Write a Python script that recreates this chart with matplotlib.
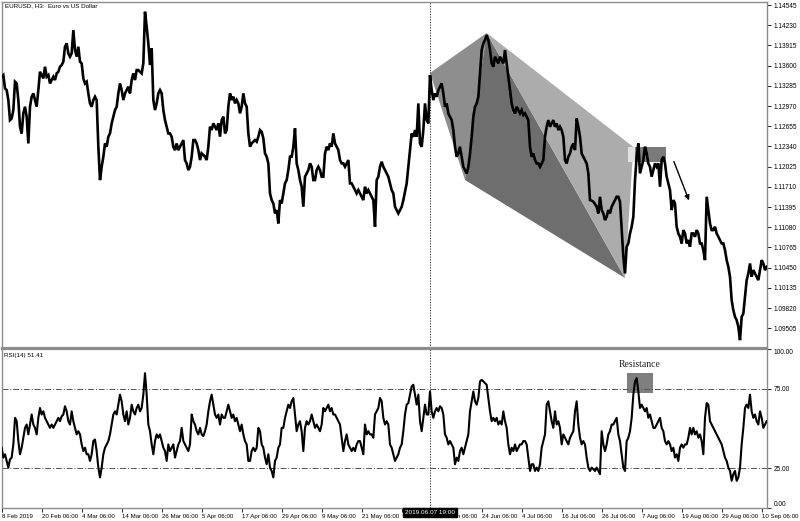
import numpy as np
import matplotlib
matplotlib.use("Agg")
import matplotlib.pyplot as plt
from matplotlib.patches import Polygon, Rectangle

plt.rcParams['font.family'] = ['Liberation Sans', 'DejaVu Sans']

# ---------------- data (EURUSD H3, one sample every 8 trading hours) ----------------
price_feb_mar = [1.13427, 1.13453, 1.13245, 1.13219, 1.13063, 1.12751, 1.12777, 1.12907, 1.13349, 1.13323,
                 1.13063, 1.12647, 1.12543, 1.12855, 1.12959, 1.12803, 1.12387, 1.12959, 1.13115, 1.13167,
                 1.13063, 1.12959, 1.13219, 1.13505, 1.13453, 1.13401, 1.13583, 1.13427, 1.13453, 1.13323,
                 1.13375, 1.13427, 1.13375, 1.13479, 1.13505, 1.13583, 1.13609, 1.13661, 1.13895, 1.13947,
                 1.13791, 1.13739, 1.13791, 1.14155, 1.13843, 1.13739, 1.13895, 1.13661, 1.13635, 1.13401,
                 1.13323, 1.13349, 1.13167, 1.13011, 1.12959, 1.13063, 1.13115, 1.13063, 1.12335, 1.11815,
                 1.12023, 1.12179, 1.12387, 1.12335, 1.12491, 1.12543, 1.12699, 1.12803, 1.12907, 1.12959,
                 1.13167, 1.13323, 1.13219, 1.13063, 1.13167, 1.13219, 1.13271, 1.13167, 1.13375, 1.13479,
                 1.13375, 1.13531, 1.13531, 1.13505, 1.13479, 1.13635, 1.14441, 1.14207, 1.13947, 1.13609,
                 1.13869, 1.13063, 1.12907, 1.13011, 1.13167, 1.13219, 1.13167, 1.12907, 1.12751, 1.12647,
                 1.12543, 1.12543, 1.12491, 1.12335, 1.12283, 1.12387, 1.12283, 1.12335, 1.12387, 1.12439,
                 1.12127, 1.12075, 1.11971, 1.12023, 1.12179, 1.12439]
price_apr_may = [1.12440, 1.12388, 1.12284, 1.12128, 1.12232, 1.12206, 1.12180, 1.12128, 1.12336, 1.12648,
                 1.12596, 1.12700, 1.12648, 1.12596, 1.12700, 1.12492, 1.12752, 1.12804, 1.12544, 1.12596,
                 1.12960, 1.13168, 1.13064, 1.13116, 1.13012, 1.13064, 1.13012, 1.12856, 1.12960, 1.13168,
                 1.13012, 1.12960, 1.12544, 1.12336, 1.12388, 1.12414, 1.12440, 1.12414, 1.12492, 1.12596,
                 1.12570, 1.12466, 1.12232, 1.12180, 1.12076, 1.11608, 1.11504, 1.11452, 1.11296, 1.11348,
                 1.11140, 1.11504, 1.11452, 1.11608, 1.11764, 1.11816, 1.11972, 1.12180, 1.12180, 1.12336,
                 1.12622, 1.12076, 1.11972, 1.11816, 1.11712, 1.11400, 1.11868, 1.11920, 1.11972, 1.12076,
                 1.12024, 1.11816, 1.11816, 1.11972, 1.12024, 1.11972, 1.11868, 1.11868, 1.12232, 1.12336,
                 1.12284, 1.12388, 1.12336, 1.12544, 1.12388, 1.12336, 1.12284, 1.12128, 1.12076, 1.12076,
                 1.12024, 1.12076, 1.12128, 1.11764, 1.11764, 1.11712, 1.11660, 1.11608, 1.11660, 1.11608,
                 1.11556, 1.11504, 1.11712, 1.11608, 1.11660, 1.11608, 1.11556, 1.11504, 1.11088, 1.11816,
                 1.11868, 1.12024, 1.12102, 1.12024, 1.11972, 1.11920, 1.11868, 1.11764, 1.11660, 1.11608,
                 1.11400, 1.11348, 1.11296]
price_jun_jul = [1.11347, 1.11399, 1.11503, 1.11633, 1.11763, 1.12023, 1.12283, 1.12543, 1.12491, 1.12595,
                 1.12491, 1.13011, 1.12387, 1.12335, 1.12595, 1.13011, 1.12751, 1.12699, 1.13453, 1.13219,
                 1.13063, 1.13167, 1.13115, 1.13219, 1.13271, 1.13323, 1.13167, 1.12959, 1.13011, 1.12855,
                 1.12803, 1.12751, 1.12595, 1.12335, 1.12179, 1.12231, 1.12335, 1.12179, 1.12023, 1.11971,
                 1.11919, 1.12023, 1.12231, 1.12491, 1.12803, 1.12959, 1.13011, 1.13115, 1.13479, 1.13843,
                 1.13947, 1.13999, 1.14077, 1.13999, 1.13843, 1.13635, 1.13583, 1.13739, 1.13687, 1.13635,
                 1.13739, 1.13687, 1.13635, 1.13843, 1.13635, 1.13427, 1.13219, 1.13011, 1.12907, 1.12855,
                 1.12959, 1.12907, 1.12855, 1.12907, 1.12829, 1.12855, 1.12803, 1.12751, 1.12335, 1.12179,
                 1.12231, 1.12127, 1.12075, 1.12075, 1.12023, 1.12075, 1.12127, 1.12491, 1.12647, 1.12751,
                 1.12647, 1.12699, 1.12751, 1.12647, 1.12699, 1.12595, 1.12647, 1.12595, 1.12491, 1.12127,
                 1.12075, 1.12179, 1.12231, 1.12335, 1.12387, 1.12283, 1.12777, 1.12647, 1.12491, 1.12231,
                 1.12179, 1.12127, 1.12075, 1.11919]
price_aug_sep = [1.11504, 1.11494, 1.11478, 1.11442, 1.11400, 1.11296, 1.11556, 1.11348, 1.11296, 1.11192,
                 1.11244, 1.11348, 1.11296, 1.11400, 1.11452, 1.11504, 1.11556, 1.11556, 1.11478, 1.11036,
                 1.10620, 1.10360, 1.10776, 1.10828, 1.10984, 1.11088, 1.11244, 1.11816, 1.12180, 1.12388,
                 1.11920, 1.12024, 1.12128, 1.12336, 1.12232, 1.12076, 1.12024, 1.11868, 1.11972, 1.12076,
                 1.12024, 1.12076, 1.11712, 1.12128, 1.12180, 1.12076, 1.11868, 1.11764, 1.11660, 1.11348,
                 1.11504, 1.11452, 1.11088, 1.10984, 1.10932, 1.10828, 1.11036, 1.10984, 1.10828, 1.10880,
                 1.10776, 1.10984, 1.10984, 1.10932, 1.11036, 1.10984, 1.10828, 1.10828, 1.10724, 1.10568,
                 1.11556, 1.11348, 1.11140, 1.11036, 1.11036, 1.11088, 1.10984, 1.10932, 1.10880, 1.10828,
                 1.10828, 1.10724, 1.10568, 1.10464, 1.10308, 1.09944, 1.09788, 1.09684, 1.09632, 1.09528,
                 1.09320, 1.09684, 1.09736, 1.09996, 1.10256, 1.10360, 1.10516, 1.10308, 1.10412, 1.10360,
                 1.10308, 1.10256, 1.10412, 1.10568, 1.10516, 1.10412, 1.10464]

rsi_feb_may = [37.9, 31.7, 33.8, 29.6, 25.4, 30.6, 31.7, 40.0, 56.7, 54.6,
               42.1, 33.8, 37.9, 44.2, 50.4, 52.5, 46.3, 52.5, 58.8, 52.5,
               50.4, 46.3, 56.7, 62.9, 58.8, 60.8, 56.7, 54.6, 52.5, 50.4,
               52.5, 50.4, 52.5, 54.6, 56.7, 54.6, 57.7, 58.8, 64.0, 60.8,
               54.6, 52.5, 60.8, 54.6, 50.4, 46.3, 48.3, 46.3, 40.0, 35.8,
               37.9, 33.8, 33.8, 29.6, 33.8, 42.1, 43.1, 35.8, 25.4, 19.2,
               25.4, 33.8, 37.9, 40.0, 42.1, 46.3, 52.5, 58.8, 60.8, 58.8,
               65.0, 71.3, 67.1, 58.8, 54.6, 60.8, 52.5, 56.7, 65.0, 60.8,
               58.8, 62.9, 65.0, 60.8, 62.9, 71.3, 84.8, 71.3, 52.5, 48.3,
               40.0, 33.8, 42.1, 46.3, 44.2, 46.3, 42.1, 37.9, 35.8, 29.6,
               40.0, 35.8, 37.9, 40.0, 31.7, 35.8, 40.0, 42.1, 50.4, 42.1,
               40.0, 37.9, 35.8, 40.0, 58.8, 54.6, 52.5, 48.3, 46.3, 50.4,
               46.3, 45.2, 48.3, 52.5, 60.8, 67.1, 71.3, 65.0, 58.8, 56.7,
               58.8, 52.5, 58.8, 56.7, 56.7, 60.8, 65.0, 60.8, 56.7, 58.8,
               54.6, 56.7, 52.5, 48.3, 52.5, 46.3, 42.1, 40.0, 29.6, 29.6,
               35.8, 37.9, 35.8, 37.9, 50.4, 48.3, 40.0, 37.9, 31.7, 27.5,
               33.8, 25.4, 23.3, 19.2, 29.6, 31.7, 37.9, 40.0, 50.4, 50.4,
               56.7, 60.8, 65.0, 62.9, 67.1, 69.2, 58.8, 48.3, 52.5, 54.6,
               48.3, 35.8, 50.4, 54.6, 52.5, 54.6, 58.8, 54.6, 50.4, 52.5,
               50.4, 48.3, 52.5, 62.9, 60.8, 62.9, 65.0, 60.8, 62.9, 58.8,
               58.8, 56.7, 54.6, 52.5, 44.2, 35.8, 42.1, 46.3, 40.0, 37.9,
               35.8, 37.9, 35.8, 40.0, 42.1, 42.1, 37.9, 33.8, 52.5, 46.3,
               48.3, 46.3, 46.3, 44.2, 58.8, 60.8, 62.9, 69.2, 67.1, 56.7,
               52.5, 54.6, 52.5, 40.0, 37.9, 33.8, 29.6, 31.7, 33.8, 37.9]
rsi_jun_sep = [40.0, 48.3, 58.8, 65.0, 66.0, 71.3, 76.5, 77.5, 71.3, 65.0,
               71.3, 54.6, 48.3, 56.7, 65.0, 58.8, 58.8, 73.3, 60.8, 56.7,
               60.8, 62.9, 60.8, 64.0, 62.9, 58.8, 46.3, 44.2, 40.0, 42.1,
               40.0, 37.9, 27.5, 31.7, 29.6, 35.8, 37.9, 33.8, 37.9, 42.1,
               46.3, 60.8, 67.1, 73.3, 67.1, 65.0, 69.2, 79.6, 80.6, 79.6,
               78.5, 77.5, 69.2, 60.8, 54.6, 56.7, 54.6, 56.7, 52.5, 54.6,
               52.5, 60.8, 54.6, 50.4, 40.0, 33.8, 37.9, 35.8, 40.0, 35.8,
               37.9, 40.0, 40.0, 42.1, 42.1, 40.0, 31.7, 23.3, 27.5, 27.5,
               23.3, 25.4, 23.3, 27.5, 37.9, 42.1, 46.3, 65.0, 67.1, 60.8,
               54.6, 50.4, 60.8, 52.5, 54.6, 50.4, 40.0, 46.3, 44.2, 42.1,
               40.0, 44.2, 46.3, 48.3, 60.8, 67.1, 52.5, 44.2, 40.0, 42.1,
               40.0, 31.7, 25.4, 23.3, 25.4, 24.4, 23.3, 25.4, 23.3, 21.3,
               48.3, 40.0, 35.8, 40.0, 46.3, 48.3, 52.5, 52.5, 54.6, 56.7,
               46.3, 42.1, 33.8, 25.4, 23.3, 42.1, 44.2, 48.3, 56.7, 71.3,
               79.6, 81.7, 73.3, 62.9, 65.0, 62.9, 60.8, 62.9, 56.7, 58.8,
               54.6, 50.4, 50.4, 52.5, 54.6, 56.7, 50.4, 48.3, 42.1, 40.0,
               42.1, 40.0, 35.8, 37.9, 31.7, 33.8, 29.6, 37.9, 40.0, 37.9,
               40.0, 40.0, 44.2, 50.4, 46.3, 50.4, 46.3, 48.3, 44.2, 46.3,
               42.1, 33.8, 56.7, 66.0, 65.0, 54.6, 52.5, 50.4, 48.3, 46.3,
               44.2, 42.1, 40.0, 35.8, 31.7, 29.6, 25.4, 23.3, 17.1, 21.3,
               23.3, 17.1, 19.2, 25.4, 40.0, 50.4, 62.9, 65.0, 62.9, 71.3,
               60.8, 56.7, 58.8, 54.6, 52.5, 60.8, 56.7, 50.4, 52.5, 54.6]

# date labels (one every 8 trading days = 192 trading hours); the one under the cursor label is hidden
date_labels = ['8 Feb 2019', '20 Feb 06:00', '4 Mar 06:00', '14 Mar 06:00', '26 Mar 06:00',
               '5 Apr 06:00', '17 Apr 06:00', '29 Apr 06:00', '9 May 06:00', '21 May 06:00',
               '', '12 Jun 06:00', '24 Jun 06:00', '4 Jul 06:00', '16 Jul 06:00',
               '26 Jul 06:00', '7 Aug 06:00', '19 Aug 06:00', '29 Aug 06:00', '10 Sep 06:00']
price_ticks = [1.14545, 1.14230, 1.13915, 1.13600, 1.13285, 1.12970, 1.12655, 1.12340, 1.12025,
               1.11710, 1.11395, 1.11080, 1.10765, 1.10450, 1.10135, 1.09820, 1.09505]
rsi_ticks = [100, 75, 25, 0]
rsi_levels = [75, 25]

# harmonic pattern pivots X, A, B, C, D (trading hours, price)
pattern_t = [2064, 2336, 2232, 3040, 3000]
pattern_p = [1.13485, 1.14108, 1.11817, 1.12332, 1.10289]
# supply zone near C
zone_t = [3014, 3048, 3197]
zone_p = [1.12097, 1.12331]
# arrow
arrow_t = [3230, 3312]
arrow_p = [1.12144, 1.11458]
# RSI resistance box
res_t = [3010, 3134]
res_v = [72.5, 85.0]
cursor_t = 2064
cursor_label = '2019.06.07 19:00'
rsi_last = 51.41

# ---------------- figure ----------------
W, H = 800, 521
fig = plt.figure(figsize=(W / 100, H / 100), dpi=100)
fig.patch.set_facecolor('white')

price = np.array(price_feb_mar + price_apr_may + price_jun_jul + price_aug_sep)
rsi = np.array(rsi_feb_may + rsi_jun_sep)
t = 8.0 * (np.arange(len(price)) + 1)

ax = fig.add_axes([2 / W, 1 - 348 / H, 765 / W, 346 / H])
ax2 = fig.add_axes([2 / W, 1 - 508 / H, 765 / W, 159 / H])

xlim = (9.6, 3681.6)
grey = '#8c8c8c'

# triangles
X, A, B, C, D = list(zip(pattern_t, pattern_p))
ax.add_patch(Polygon([X, A, B], closed=True, facecolor='#8e8e8e', edgecolor='none', zorder=1))
ax.add_patch(Polygon([A, B, D], closed=True, facecolor='#6e6e6e', edgecolor='none', zorder=1))
ax.add_patch(Polygon([A, C, D], closed=True, facecolor='#acacac', edgecolor='none', zorder=1))
ax.add_patch(Rectangle((zone_t[0], zone_p[0]), zone_t[1] - zone_t[0], zone_p[1] - zone_p[0],
                       facecolor='#e2e2e2', edgecolor='none', zorder=1.5))
ax.add_patch(Rectangle((zone_t[1], zone_p[0]), zone_t[2] - zone_t[1], zone_p[1] - zone_p[0],
                       facecolor='#7a7a7a', edgecolor='none', zorder=1.5))

ax.plot(t, price, color='black', lw=1.9, zorder=3, solid_joinstyle='miter')
ax.annotate('', xy=(arrow_t[1], arrow_p[1]), xytext=(arrow_t[0], arrow_p[0]),
            arrowprops=dict(arrowstyle='-|>', color='black', lw=1.0, mutation_scale=7), zorder=4)
ax.axvline(cursor_t, color='#444444', lw=0.8, ls=(0, (1.2, 1.2)), zorder=2)

ax.set_xlim(*xlim)
ax.set_ylim(1.09198, 1.14592)
ax.yaxis.tick_right()
ax.set_yticks(price_ticks)
ax.set_yticklabels(['%.5f' % v for v in price_ticks])
ax.tick_params(axis='y', direction='out', length=3, width=0.6, labelsize=4.7, pad=1.5, colors='black')
ax.set_xticks([])

# RSI panel
ax2.add_patch(Rectangle((res_t[0], res_v[0]), res_t[1] - res_t[0], res_v[1] - res_v[0],
                        facecolor='#7f7f7f', edgecolor='none', zorder=1))
ax2.text((res_t[0] + res_t[1]) / 2, 90, 'Resistance', ha='center', va='center',
         fontsize=7, family=['Liberation Serif', 'DejaVu Serif'], color='#222222')
for lv in rsi_levels:
    ax2.axhline(lv, color='#555555', lw=0.7, ls=(0, (6, 2, 1, 2)), zorder=1)
ax2.plot(t, rsi, color='black', lw=1.5, zorder=3)
ax2.axvline(cursor_t, color='#444444', lw=0.8, ls=(0, (1.2, 1.2)), zorder=2)
ax2.set_xlim(*xlim)
ax2.set_ylim(0.625, 100)
ax2.yaxis.tick_right()
ax2.set_yticks(rsi_ticks)
ax2.set_yticklabels(['%.2f' % v for v in rsi_ticks])
ax2.tick_params(axis='y', direction='out', length=3, width=0.6, labelsize=4.7, pad=1.5)
lbls = ax2.get_yticklabels()
lbls[0].set_va('top')
lbls[-1].set_va('bottom')

tick_pos = [9.6 + 192 * i for i in range(len(date_labels))]
ax2.set_xticks(tick_pos)
ax2.set_xticklabels(date_labels, ha='left', fontsize=4.4)
ax2.tick_params(axis='x', direction='out', length=3, width=0.6, pad=1)

for a in (ax, ax2):
    for s in a.spines.values():
        s.set_color(grey)
        s.set_linewidth(1.0)
ax.spines['bottom'].set_linewidth(1.6)
ax2.spines['top'].set_linewidth(1.6)

fig.text(5 / W, 1 - 5.5 / H, 'EURUSD, H3:  Euro vs US Dollar', fontsize=4.5, va='center', ha='left')
fig.text(4 / W, 1 - 356 / H, 'RSI(14) %.2f' % rsi_last, fontsize=4.5, va='center', ha='left')
fig.text(430 / W, 1 - 512.5 / H, cursor_label, fontsize=4.6, va='center', ha='center', color='white',
         bbox=dict(boxstyle='square,pad=0.25', facecolor='black', edgecolor='black'))

fig.savefig('out.png', dpi=100, facecolor='white')
